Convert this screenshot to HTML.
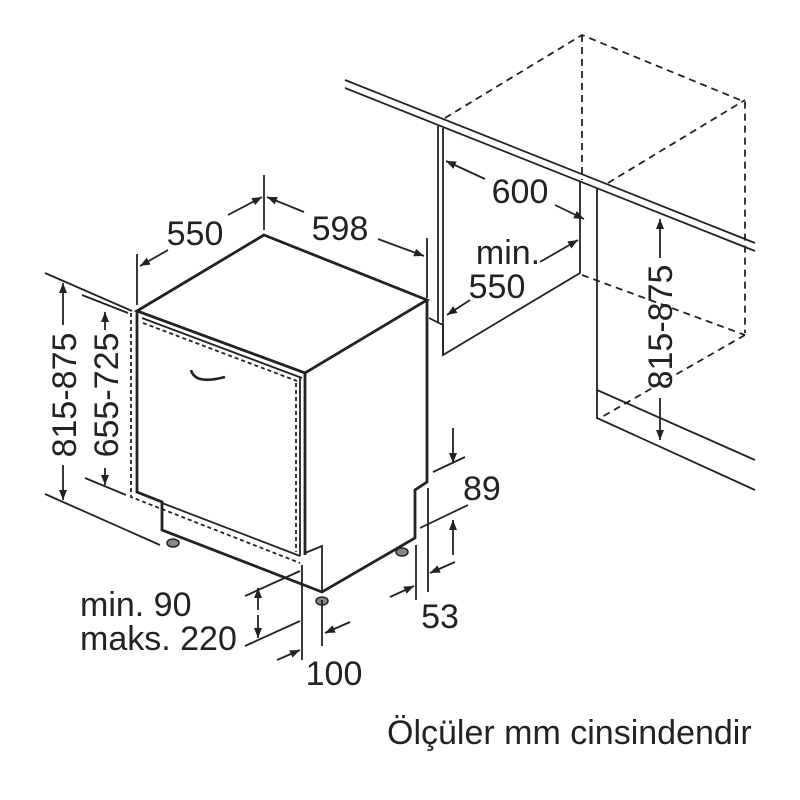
<!DOCTYPE html>
<html><head><style>body{margin:0;background:#fff}svg{display:block}</style></head><body>
<svg width="800" height="800" viewBox="0 0 800 800" xmlns="http://www.w3.org/2000/svg" font-family="Liberation Sans, sans-serif">
<defs><marker id="a" viewBox="0 0 10 10" refX="10" refY="5" markerWidth="10" markerHeight="10" orient="auto-start-reverse" markerUnits="userSpaceOnUse"><path d="M0,1 L10,5 L0,9z" fill="#222"/></marker></defs>
<g fill="none" stroke="#222" stroke-width="1.8">
<line x1="345" y1="80" x2="755" y2="243"/><line x1="345" y1="88" x2="755" y2="251"/>
<line x1="438" y1="126" x2="438" y2="322"/><line x1="443" y1="128" x2="443" y2="355"/>
<polyline points="429,318 443,325 443,355 580,273 580,182"/>
<line x1="597" y1="188" x2="597" y2="390"/>
<polyline points="597,390 755,460"/><polyline points="597,390 597,418 755,490"/>
<g stroke-dasharray="7,5"><polyline points="445,118 582,35 745,102 745,333"/><line x1="582" y1="35" x2="582" y2="180"/><line x1="608" y1="183" x2="745" y2="100"/><line x1="582" y1="275" x2="745" y2="335"/><line x1="745" y1="335" x2="600" y2="418"/></g>
<line x1="485" y1="179" x2="446" y2="161" marker-end="url(#a)"/><line x1="555" y1="205" x2="584" y2="219" marker-end="url(#a)"/>
<line x1="540" y1="262" x2="578" y2="240" marker-end="url(#a)"/><line x1="470" y1="300" x2="447" y2="315" marker-end="url(#a)"/>
<line x1="660" y1="258" x2="660" y2="219" marker-end="url(#a)"/><line x1="660" y1="398" x2="660" y2="440" marker-end="url(#a)"/>
<g stroke-width="2.8">
<polygon points="264,235 137,311 305,373 427,300"/>
<polyline points="137,311 137,492 162,502 162,530 322,592 415,538 415,490 427,482 427,300"/>
<line x1="305" y1="373" x2="305" y2="555"/>
</g>
<line x1="142" y1="318" x2="302" y2="378"/>
<line x1="162" y1="503" x2="300" y2="556"/>
<line x1="300" y1="378" x2="300" y2="556"/>
<polyline points="305,553 322,546 322,592"/>
<g stroke-dasharray="4,3"><polyline points="131,313 131,497 300,563"/><line x1="143" y1="323" x2="297" y2="381"/><line x1="296" y1="383" x2="296" y2="552"/></g>
<path d="M191,370 Q195,385 225,377" stroke-width="2.6"/>
<g fill="#888" stroke="#222" stroke-width="1.5"><ellipse cx="173" cy="543" rx="6" ry="4"/><ellipse cx="322" cy="601" rx="6" ry="4"/><ellipse cx="402" cy="552" rx="6" ry="4"/></g>
<line x1="137" y1="254" x2="137" y2="305"/><line x1="264" y1="175" x2="264" y2="230"/><line x1="427" y1="238" x2="427" y2="298"/>
<line x1="168" y1="250" x2="140" y2="266" marker-end="url(#a)"/><line x1="228" y1="215" x2="262" y2="197" marker-end="url(#a)"/>
<line x1="304" y1="212" x2="267" y2="197" marker-end="url(#a)"/><line x1="378" y1="239" x2="424" y2="256" marker-end="url(#a)"/>
<line x1="45" y1="273" x2="132" y2="311"/><line x1="45" y1="494" x2="160" y2="545"/>
<line x1="82" y1="295" x2="128" y2="313"/><line x1="85" y1="478" x2="126" y2="495"/>
<line x1="63" y1="325" x2="63" y2="283" marker-end="url(#a)"/><line x1="63" y1="465" x2="63" y2="500" marker-end="url(#a)"/>
<line x1="105" y1="330" x2="105" y2="312" marker-end="url(#a)"/><line x1="105" y1="468" x2="105" y2="485" marker-end="url(#a)"/>
<line x1="453" y1="428" x2="453" y2="463" marker-end="url(#a)"/><line x1="433" y1="472" x2="465" y2="457"/>
<line x1="420" y1="528" x2="468" y2="505"/><line x1="453" y1="555" x2="453" y2="520" marker-end="url(#a)"/>
<line x1="416" y1="545" x2="416" y2="600"/><line x1="428" y1="488" x2="428" y2="592"/>
<line x1="390" y1="597" x2="414" y2="586" marker-end="url(#a)"/><line x1="455" y1="562" x2="430" y2="573" marker-end="url(#a)"/>
<line x1="302" y1="565" x2="302" y2="660"/><line x1="322" y1="600" x2="322" y2="646"/>
<line x1="277" y1="660" x2="300" y2="650" marker-end="url(#a)"/><line x1="350" y1="622" x2="325" y2="633" marker-end="url(#a)"/>
<line x1="245" y1="596" x2="300" y2="571"/><line x1="245" y1="646" x2="300" y2="621"/>
<line x1="258" y1="610" x2="258" y2="588" marker-end="url(#a)"/><line x1="258" y1="615" x2="258" y2="638" marker-end="url(#a)"/>
</g>
<g fill="#222" font-size="34">
<text x="195" y="245" text-anchor="middle">550</text>
<text x="340" y="240" text-anchor="middle">598</text>
<text x="520" y="203" text-anchor="middle">600</text>
<text x="508" y="264" text-anchor="middle">min.</text>
<text x="497" y="298" text-anchor="middle">550</text>
<text x="463" y="500">89</text>
<text x="440" y="628" text-anchor="middle">53</text>
<text x="334" y="685" text-anchor="middle">100</text>
<text x="80" y="616">min. 90</text>
<text x="80" y="650">maks. 220</text>
<text transform="translate(76,395) rotate(-90)" text-anchor="middle">815-875</text>
<text transform="translate(118,395) rotate(-90)" text-anchor="middle">655-725</text>
<text transform="translate(672,327) rotate(-90)" text-anchor="middle">815-875</text>
<text x="387" y="744" font-size="34">Ölçüler mm cinsindendir</text>
</g>
</svg>
</body></html>
